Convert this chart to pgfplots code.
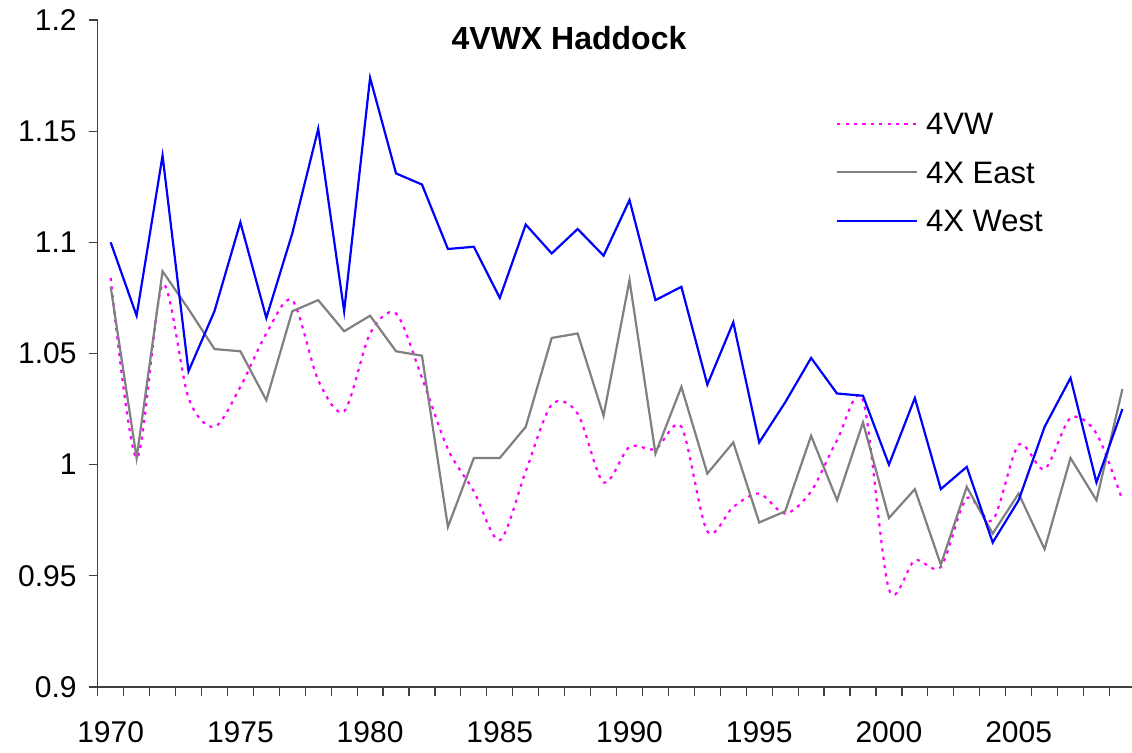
\documentclass[border=0pt]{standalone}
\usepackage{fontspec}
\setmainfont{Liberation Sans}
\usepackage{pgfplots}
\pgfplotsset{compat=1.18}
\usepackage{pgfplotstable}
\definecolor{cMag}{RGB}{255,0,255}
\definecolor{cGray}{RGB}{128,128,128}
\definecolor{cBlue}{RGB}{0,0,255}
\definecolor{cAxis}{RGB}{64,64,64}
\pgfplotstableread{
idx vw east west
0 1.084 1.080 1.100
1 1.003 1.003 1.067
2 1.081 1.087 1.139
3 1.030 1.070 1.042
4 1.017 1.052 1.069
5 1.035 1.051 1.109
6 1.059 1.029 1.066
7 1.074 1.069 1.104
8 1.038 1.074 1.151
9 1.024 1.060 1.069
10 1.059 1.067 1.174
11 1.068 1.051 1.131
12 1.039 1.049 1.126
13 1.007 0.972 1.097
14 0.988 1.003 1.098
15 0.966 1.003 1.075
16 0.997 1.017 1.108
17 1.027 1.057 1.095
18 1.023 1.059 1.106
19 0.992 1.022 1.094
20 1.008 1.083 1.119
21 1.007 1.005 1.074
22 1.017 1.035 1.080
23 0.970 0.996 1.036
24 0.981 1.010 1.064
25 0.987 0.974 1.010
26 0.978 0.979 1.028
27 0.988 1.013 1.048
28 1.011 0.984 1.032
29 1.029 1.019 1.031
30 0.944 0.976 1.000
31 0.957 0.989 1.030
32 0.954 0.955 0.989
33 0.985 0.990 0.999
34 0.975 0.969 0.965
35 1.009 0.987 0.984
36 0.998 0.962 1.017
37 1.021 1.003 1.039
38 1.014 0.984 0.992
39 0.984 1.034 1.025
}\datatable
\begin{document}
\begin{tikzpicture}
\begin{axis}[
  at={(0,0)}, anchor=south west,
  scale only axis, width=517.15bp, height=333.5bp,
  xmin=-0.5, xmax=39.37, ymin=0.9, ymax=1.2,
  axis x line*=bottom, axis y line*=left,
  axis line style={-, draw=cAxis, line width=0.6bp},
  tick style={draw=cAxis, line width=0.6bp},
  tick align=outside,
  major tick length=0pt, minor tick length=4.5bp,
  xtick={0,5,10,15,20,25,30,35},
  xticklabels={1970,1975,1980,1985,1990,1995,2000,2005},
  minor xtick={-0.5,0.5,...,38.5},
  ytick={0.9,0.95,1,1.05,1.1,1.15,1.2},
  yticklabels={0.9,0.95,1,1.05,1.1,1.15,1.2},
  minor ytick={0.9,0.95,1,1.05,1.1,1.15,1.2},
  xticklabel style={anchor=north, inner sep=0pt, yshift=-16.85bp, font=\fontsize{15bp}{18bp}\selectfont},
  yticklabel style={anchor=east, inner sep=0pt, xshift=-10.35bp, font=\fontsize{15bp}{18bp}\selectfont},
  legend cell align=left,
  legend image code/.code={\draw[#1] (0bp,0bp) -- (40bp,0bp);},
  legend style={at={(0.7138,0.861)}, anchor=north west, draw=none, fill=none,
    inner sep=0pt, outer sep=0pt, row sep=13.25bp,
    nodes={inner sep=0pt, text height=11bp, text depth=0pt, font=\fontsize{15.5bp}{18bp}\selectfont},
    /tikz/every odd column/.append style={column sep=4bp}},
]
\addplot[cMag, line width=1.1bp, dash pattern=on 1.6bp off 2.6bp, smooth] table[x=idx, y=vw] {\datatable};
\addlegendentry{4VW}
\addplot[cGray, line width=1.1bp] table[x=idx, y=east] {\datatable};
\addlegendentry{4X East}
\addplot[cBlue, line width=1.1bp] table[x=idx, y=west] {\datatable};
\addlegendentry{4X West}
\end{axis}
\node[anchor=base, font=\bfseries\fontsize{16bp}{19bp}\selectfont] at (235.65bp,318.5bp) {4VWX Haddock};
\pgfresetboundingbox
\useasboundingbox (-48.85bp,-33bp) rectangle (517.15bp,343.5bp);
\end{tikzpicture}
\end{document}
